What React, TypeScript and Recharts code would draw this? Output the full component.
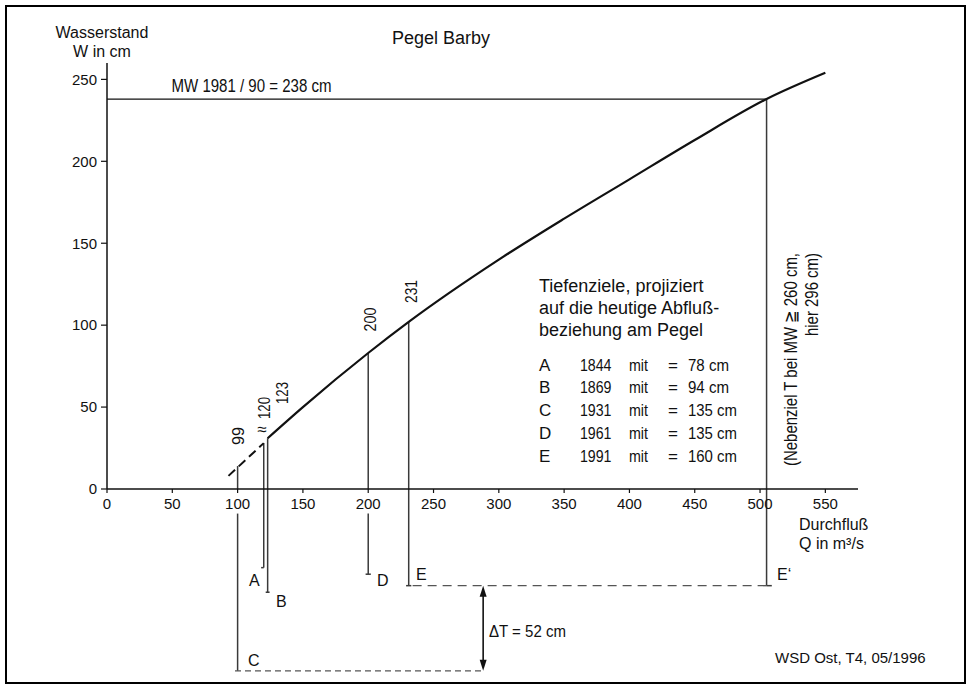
import { ComposedChart, Line, XAxis, YAxis, ReferenceLine } from "recharts";

// Abflusskurve Pegel Barby (Q in m³/s, W in cm)
const X_TICKS = [0, 50, 100, 150, 200, 250, 300, 350, 400, 450, 500, 550];
const Y_TICKS = [0, 50, 100, 150, 200, 250];

const CURVE_EXTRAPOLATED = [
  { q: 93, w: 8 },
  { q: 120, w: 28 },
];
const CURVE = [
  { q: 123, w: 31 },
  { q: 150, w: 50 },
  { q: 200, w: 83 },
  { q: 231, w: 102 },
  { q: 300, w: 140 },
  { q: 350, w: 165 },
  { q: 400, w: 189 },
  { q: 450, w: 213 },
  { q: 505, w: 238 },
  { q: 550, w: 254 },
];

// MW 1981/90
const MW_LEVEL = 238;
const MW_Q = 505;

// senkrechte Linien (Q, von W, bis W) – unter 0 = Tiefe unter Kurve
const DROP_LINES = [
  { q: 100, from: 14, to: 0 },
  { q: 100, from: -15, to: -111 },
  { q: 120, from: 28, to: -48 },
  { q: 123, from: 31, to: -63 },
  { q: 200, from: 83, to: 0 },
  { q: 200, from: -15, to: -52 },
  { q: 231, from: 102, to: -59 },
  { q: 505, from: 238, to: -59 },
];
// kleine Endstriche
const END_TICKS = [
  { q: 120, w: -48, left: 2, right: 0 },
  { q: 123, w: -63, left: 1.5, right: 1.5 },
  { q: 200, w: -52, left: 2, right: 2 },
  { q: 231, w: -59, left: 2, right: 2 },
  { q: 505, w: -59, left: 0, right: 4 },
];
const DASHED_LEVELS = [
  { from: 234, to: 505, w: -59, dash: "9 6" },
  { from: 98, to: 288, w: -111, dash: "6 4" },
];
const DELTA_T = { q: 288, from: -59, to: -111 };

const TABLE = [
  ["A", "1844", "78"],
  ["B", "1869", "94"],
  ["C", "1931", "135"],
  ["D", "1961", "135"],
  ["E", "1991", "160"],
];

const SANS = '"Liberation Sans", Arial, sans-serif';
const INK = "#111";
const GREY = "#3a3a3a";

// eslint-disable-next-line @typescript-eslint/no-explicit-any
function ArrowShape(props: any) {
  const { x1, y1, y2 } = props;
  const top = Math.min(y1, y2);
  const bot = Math.max(y1, y2);
  return (
    <g>
      <line x1={x1} x2={x1} y1={top + 4} y2={bot - 4} stroke={INK} strokeWidth={1.6} />
      <polygon points={`${x1},${top} ${x1 - 3.5},${top + 11} ${x1 + 3.5},${top + 11}`} fill={INK} />
      <polygon points={`${x1},${bot} ${x1 - 3.5},${bot - 11} ${x1 + 3.5},${bot - 11}`} fill={INK} />
    </g>
  );
}

// schmale Schrift nachgebildet über textLength
function Narrow({
  x,
  y,
  len,
  size = 17,
  rotate = false,
  anchor = "start",
  children,
}: {
  x: number;
  y: number;
  len: number;
  size?: number;
  rotate?: boolean;
  anchor?: "start" | "middle" | "end";
  children: string;
}) {
  return (
    <text
      x={x}
      y={y}
      fontSize={size}
      textAnchor={anchor}
      textLength={len}
      lengthAdjust="spacingAndGlyphs"
      transform={rotate ? `rotate(-90 ${x} ${y})` : undefined}
    >
      {children}
    </text>
  );
}

function Overlay() {
  const tableY = [370.7, 393, 415.7, 438.5, 461.5];
  return (
    <svg
      width={970}
      height={688}
      style={{ position: "absolute", left: 0, top: 0, pointerEvents: "none" }}
    >
      <g fill={INK} fontFamily={SANS}>
        <text x={102} y={38} fontSize={16} textAnchor="middle">Wasserstand</text>
        <text x={102} y={57} fontSize={16} textAnchor="middle">W in cm</text>
        <text x={441} y={44} fontSize={18} textAnchor="middle">Pegel Barby</text>
        <Narrow x={171.5} y={92} len={160} size={18}>MW 1981 / 90 = 238 cm</Narrow>

        <Narrow x={244} y={436} len={18} rotate anchor="middle">99</Narrow>
        <text x={262} y={435} fontSize={17} textAnchor="middle">≈</text>
        <Narrow x={269.5} y={408} len={22} rotate anchor="middle">120</Narrow>
        <Narrow x={288} y={393} len={22} rotate anchor="middle">123</Narrow>
        <Narrow x={375.5} y={319.5} len={24} rotate anchor="middle">200</Narrow>
        <Narrow x={416.5} y={291.5} len={23} rotate anchor="middle">231</Narrow>

        <text x={539} y={291.5} fontSize={18}>Tiefenziele, projiziert</text>
        <text x={539} y={313.5} fontSize={18}>auf die heutige Abfluß-</text>
        <text x={539} y={335.5} fontSize={18}>beziehung am Pegel</text>
        {TABLE.map((row, i) => (
          <g key={row[0]}>
            <text x={539} y={tableY[i]} fontSize={17}>{row[0]}</text>
            <Narrow x={580} y={tableY[i]} len={31.5}>{row[1]}</Narrow>
            <Narrow x={629} y={tableY[i]} len={19}>mit</Narrow>
            <text x={668} y={tableY[i]} fontSize={17}>=</text>
            <Narrow x={688} y={tableY[i]} len={row[2].length === 2 ? 41 : 49}>{`${row[2]} cm`}</Narrow>
          </g>
        ))}

        <Narrow x={797} y={253} len={213} size={18} rotate anchor="end">
          (Nebenziel T bei MW ≧ 260 cm,
        </Narrow>
        <Narrow x={818} y={253} len={83} size={18} rotate anchor="end">
          hier 296 cm)
        </Narrow>

        <text x={799} y={530} fontSize={16}>Durchfluß</text>
        <text x={799} y={548.5} fontSize={16}>Q in m³/s</text>

        <text x={249} y={586} fontSize={16}>A</text>
        <text x={276} y={606.5} fontSize={16}>B</text>
        <text x={248} y={666} fontSize={16}>C</text>
        <text x={377} y={586} fontSize={16}>D</text>
        <text x={416} y={580} fontSize={16}>E</text>
        <text x={777} y={580} fontSize={16}>E‘</text>

        <Narrow x={489} y={636.5} len={77}>ΔT = 52 cm</Narrow>
        <text x={775} y={663} fontSize={15}>WSD Ost, T4, 05/1996</text>
      </g>
    </svg>
  );
}

export default function App() {
  const tick = { fontSize: 15, fill: INK, fontFamily: SANS };
  return (
    <div
      style={{
        position: "absolute",
        left: 0,
        top: 0,
        width: 970,
        height: 688,
        background: "#fff",
      }}
    >
      <div
        style={{
          position: "absolute",
          left: 5,
          top: 5,
          width: 957,
          height: 675,
          border: "2px solid #000",
        }}
      />
      <ComposedChart
        width={970}
        height={688}
        margin={{ top: 63, right: 112, bottom: 169, left: 57 }}
      >
        <XAxis
          dataKey="q"
          type="number"
          domain={[0, 575]}
          ticks={X_TICKS}
          interval={0}
          height={30}
          tick={tick}
          tickSize={4}
          tickMargin={5}
          stroke={INK}
          axisLine={{ stroke: INK, strokeWidth: 1.5 }}
          tickLine={{ stroke: INK, strokeWidth: 1.2 }}
        />
        <YAxis
          dataKey="w"
          type="number"
          domain={[0, 260]}
          ticks={Y_TICKS}
          interval={0}
          width={50}
          tick={tick}
          tickSize={6}
          tickMargin={4}
          stroke={INK}
          axisLine={{ stroke: INK, strokeWidth: 1.5 }}
          tickLine={{ stroke: INK, strokeWidth: 1.2 }}
        />

        <ReferenceLine
          segment={[{ x: 0, y: MW_LEVEL }, { x: MW_Q, y: MW_LEVEL }]}
          stroke={INK}
          strokeWidth={1.2}
          ifOverflow="visible"
        />

        {DROP_LINES.map((d, i) => (
          <ReferenceLine
            key={`drop-${i}`}
            segment={[{ x: d.q, y: d.from }, { x: d.q, y: d.to }]}
            stroke={GREY}
            strokeWidth={1.5}
            ifOverflow="visible"
          />
        ))}
        {END_TICKS.map((t, i) => (
          <ReferenceLine
            key={`end-${i}`}
            segment={[{ x: t.q - t.left, y: t.w }, { x: t.q + t.right, y: t.w }]}
            stroke={GREY}
            strokeWidth={1.5}
            ifOverflow="visible"
          />
        ))}
        {DASHED_LEVELS.map((d, i) => (
          <ReferenceLine
            key={`lvl-${i}`}
            segment={[{ x: d.from, y: d.w }, { x: d.to, y: d.w }]}
            stroke="#555"
            strokeWidth={1.4}
            strokeDasharray={d.dash}
            ifOverflow="visible"
          />
        ))}
        <ReferenceLine
          segment={[{ x: DELTA_T.q, y: DELTA_T.from }, { x: DELTA_T.q, y: DELTA_T.to }]}
          ifOverflow="visible"
          shape={ArrowShape}
        />

        <Line
          data={CURVE_EXTRAPOLATED}
          dataKey="w"
          type="linear"
          stroke={INK}
          strokeWidth={2}
          strokeDasharray="9 5"
          dot={false}
          activeDot={false}
          isAnimationActive={false}
        />
        <Line
          data={CURVE}
          dataKey="w"
          type="monotone"
          stroke={INK}
          strokeWidth={2.2}
          dot={false}
          activeDot={false}
          isAnimationActive={false}
        />
      </ComposedChart>
      <Overlay />
    </div>
  );
}
